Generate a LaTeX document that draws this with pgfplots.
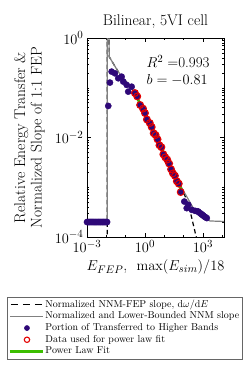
\documentclass[border=0pt]{standalone}
\usepackage{pgfplots}
\pgfplotsset{compat=1.18}
\definecolor{dotpurple}{RGB}{46,8,120}
\definecolor{fitred}{RGB}{228,0,0}
\definecolor{fitgreen}{RGB}{60,190,0}
\definecolor{nnmgray}{RGB}{128,128,128}
\pgfplotsset{
  lineleg/.style={legend image code/.code={\draw[##1] (0pt,0pt) -- (33pt,0pt);}},
  dashleg/.style={legend image code/.code={\draw[##1,dash pattern=on 7pt off 5pt] (1pt,0pt) -- (33pt,0pt);}},
  markleg/.style={legend image code/.code={\draw[##1,mark size=#1] plot coordinates {(17pt,0pt)};}},
}
\begin{document}
\begin{tikzpicture}
\begin{axis}[
  at={(0,0)}, anchor=south west,
  scale only axis, width=137pt, height=199pt,
  xmode=log, ymode=log,
  xmin=1e-3, xmax=1.23e4, ymin=1e-4, ymax=1,
  xtick={1e-3,1,1e3}, ytick={1e-4,1e-2,1},
  minor xtick={1e-2,1e-1,10,100,1e4},
  minor ytick={2e-4,3e-4,4e-4,5e-4,6e-4,7e-4,8e-4,9e-4,1e-3,2e-3,3e-3,4e-3,5e-3,6e-3,7e-3,8e-3,9e-3,2e-2,3e-2,4e-2,5e-2,6e-2,7e-2,8e-2,9e-2,1e-1,2e-1,3e-1,4e-1,5e-1,6e-1,7e-1,8e-1,9e-1},
  tick align=inside,
  major tick length=4pt, minor tick length=2pt,
  tick style={black, line width=0.5pt},
  axis line style={line width=0.6pt},
  tick label style={font=\fontsize{15}{18}\selectfont},
  title={Bilinear, 5VI cell},
  title style={font=\fontsize{15.5}{18}\selectfont},
  label style={font=\fontsize{15.5}{16.5}\selectfont},
  xlabel={$E_{FEP}$,\hspace{0.6em}$\max(E_{sim})/18$},
  ylabel={Relative Energy Transfer \&\\Normalized Slope of 1:1 FEP},
  ylabel style={align=center, at={(axis description cs:-0.42,0.5)}, anchor=center},
  legend style={at={(axis description cs:0.274,-0.3015)}, anchor=north,
    font=\fontsize{10}{12}\selectfont, draw=black!60, line width=0.6pt,
    nodes={inner sep=1.2pt, text height=7pt, text depth=2.3pt},
    row sep=0pt, inner sep=1.5pt},
  legend cell align=left,
]
% NNM-FEP slope (dashed)
\addplot[black, line width=1.2pt, dash pattern=on 4.5pt off 3pt, dashleg]
coordinates {(0.0112,1e-5) (0.0112,3) (0.0135,3) (0.0141,0.42) (0.0414,0.21) (0.24,0.090) (1,0.032) (10,0.0050) (40,0.0017) (79.7,9.6e-4) (118,6.7e-4) (214,3.4e-4) (389,1.27e-4) (492,8.7e-5)};
\addlegendentry{Normalized NNM-FEP slope, d$\omega$/d$E$}
% Lower-bounded NNM slope (gray)
\addplot[nnmgray, line width=1.2pt, lineleg]
coordinates {(1e-3,2e-4) (0.0112,2e-4) (0.0112,3) (0.0135,3) (0.0141,0.42) (0.0414,0.21) (0.24,0.090) (1,0.032) (10,0.0050) (40,0.0017) (79.7,9.6e-4) (145,6.5e-4) (318,3.8e-4) (708,2.57e-4) (2340,2.1e-4) (1.3e4,2.05e-4)};
\addlegendentry{Normalized and Lower-Bounded NNM slope}
% all transferred points (purple)
\addplot[only marks, mark=*, mark size=3.1pt, color=dotpurple, markleg=2.5pt]
coordinates {
(0.00100,2e-4) (0.00112,2e-4) (0.00126,2e-4) (0.00141,2e-4) (0.00158,2e-4) (0.00178,2e-4) (0.00200,2e-4) (0.00224,2e-4) (0.00251,2e-4) (0.00282,2e-4) (0.00316,2e-4) (0.00355,2e-4) (0.00398,2e-4) (0.00447,2e-4) (0.00501,2e-4) (0.00562,2e-4) (0.00631,2e-4) (0.00708,2e-4) (0.00794,2e-4) (0.00891,2e-4) (0.0100,2e-4) (0.0110,2e-4)
(0.0126,0.0431) (0.0154,0.127) (0.0188,0.211) (0.0279,0.195) (0.0414,0.155) (0.062,0.167) (0.075,0.133) (0.113,0.114) (0.136,0.0835) (0.205,0.105)
(0.302,0.0783) (0.398,0.067) (0.562,0.045) (0.794,0.038) (1.0,0.031) (1.259,0.023) (1.778,0.0195) (2.239,0.0162) (2.818,0.0122) (3.548,0.0112) (4.467,0.0092) (5.623,0.0070) (7.079,0.0064) (8.913,0.0046) (11.22,0.0040) (14.13,0.0036) (17.78,0.0030) (22.39,0.0023) (28.18,0.0019) (35.48,0.00170) (44.67,0.00132) (56.23,0.00118) (70.8,0.00080)
(108.7,5.16e-4) (175,4.43e-4) (144.5,3.80e-4) (263,3.52e-4) (389,3.36e-4) (480,3.3e-4) (575,3.25e-4) (708,3.02e-4) (820,2.9e-4) (933,2.79e-4) (1050,2.7e-4) (1175,2.58e-4) (1350,2.5e-4) (1585,2.40e-4)
};
\addlegendentry{Portion of Transferred to Higher Bands}
% data used for fit (red circles)
\addplot[only marks, mark=o, mark size=3.4pt, color=fitred, line width=1.1pt, markleg=2.7pt]
coordinates {
(0.302,0.0783) (0.398,0.067) (0.562,0.045) (0.794,0.038) (1.0,0.031) (1.259,0.023) (1.778,0.0195) (2.239,0.0162) (2.818,0.0122) (3.548,0.0112) (4.467,0.0092) (5.623,0.0070) (7.079,0.0064) (8.913,0.0046) (11.22,0.0040) (14.13,0.0036) (17.78,0.0030) (22.39,0.0023) (28.18,0.0019) (35.48,0.00170) (44.67,0.00132) (56.23,0.00118) (70.8,0.00080)
};
\addlegendentry{Data used for power law fit}
% power law fit
\addplot[fitgreen, line width=2.6pt, lineleg]
coordinates {(0.30,0.0786) (75,9.0e-4)};
\addlegendentry{Power Law Fit}
\node[anchor=west, font=\fontsize{15}{18}\selectfont] at (axis cs:0.79,0.33) {$R^2=$0.993};
\node[anchor=west, font=\fontsize{15}{18}\selectfont] at (axis cs:0.79,0.143) {$b=-0.81$};
\end{axis}
\pgfresetboundingbox
\path (-87pt,-137pt) rectangle (162pt,237pt);
\end{tikzpicture}
\end{document}
